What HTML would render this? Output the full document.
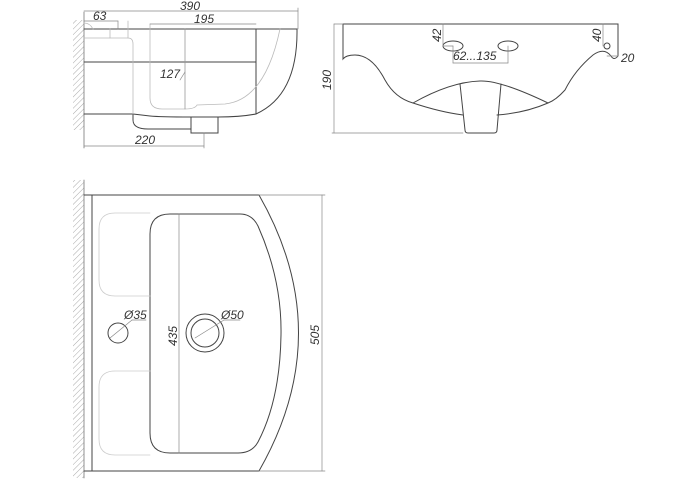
<!DOCTYPE html>
<html><head><meta charset="utf-8"><style>
html,body{margin:0;padding:0;background:#fff;width:700px;height:500px;overflow:hidden}
text{font-family:"Liberation Sans","DejaVu Sans",sans-serif;font-style:italic;font-size:12px;fill:#333}
</style></head><body>
<svg width="700" height="500" viewBox="0 0 700 500" xmlns="http://www.w3.org/2000/svg">
<defs>
<pattern id="h" width="4" height="4" patternUnits="userSpaceOnUse" patternTransform="rotate(45)">
<line x1="0" y1="0" x2="0" y2="4" stroke="#aaa" stroke-width="1"/>
</pattern>
</defs>
<g fill="none" stroke-linecap="round">
<!-- TOP VIEW -->
<rect x="73" y="20" width="11" height="110" fill="url(#h)" stroke="none"/>
<line x1="84" y1="12" x2="84" y2="148" stroke="#777" stroke-width="0.8"/>
<g stroke="#444" stroke-width="1">
<path d="M84 29 H297 Q298 95 256 114"/>
<line x1="84" y1="62" x2="256" y2="62"/>
<line x1="256" y1="29" x2="256" y2="114"/>
<path d="M84 114 H133 V120 Q133 129 148 129 H191"/>
<rect x="191" y="117" width="27" height="16"/>
<path d="M218 117 Q240 117 256 114"/>
<path d="M133 114 L150 116 Q160 117 191 117"/>
</g>
<g stroke="#bbb" stroke-width="0.8">
<path d="M150 24 V98 Q150 109 162 109 H185 Q195 109 197 105 L225 104 Q265 100 280 29"/>
<line x1="185" y1="29" x2="185" y2="109" stroke="#999"/>
<path d="M84 38 H128 Q133 38 133 44 V114"/>
<line x1="110" y1="29" x2="110" y2="38"/>
<line x1="128" y1="21" x2="128" y2="38"/>
<path d="M84 23 Q90 23 93 29"/>
</g>
<g stroke="#888" stroke-width="0.7">
<line x1="84" y1="11" x2="298" y2="11"/><line x1="298" y1="8" x2="298" y2="29"/>
<line x1="84" y1="21" x2="118" y2="21"/><line x1="118" y1="21" x2="118" y2="29"/>
<line x1="150" y1="24" x2="256" y2="24"/>
<line x1="84" y1="146" x2="204" y2="146"/><line x1="204" y1="133" x2="204" y2="148"/>
<line x1="180" y1="80" x2="185" y2="72"/>
</g>
<!-- FRONT VIEW -->
<g stroke="#444" stroke-width="1">
<path d="M343 24 H618 V56 Q614 61 611 56 Q604 47 593 55 Q575 70 565 90 Q556 100 548 103 Q500 80 480 81 Q450 82 413 103 Q395 98 385 80 Q372 55 355 55 Q346 55 343 59 V24"/>
<path d="M413 103 Q440 112 463 115"/>
<path d="M548 103 Q525 113 497 115"/>
<path d="M460 84 L465 130 Q465 133 468 133 H494 Q497 133 497 130 L501 84"/>
<ellipse cx="453" cy="46" rx="10" ry="5"/>
<ellipse cx="508" cy="46" rx="10" ry="5"/>
<circle cx="607" cy="46" r="3"/>
</g>
<g stroke="#888" stroke-width="0.7">
<line x1="334" y1="24" x2="343" y2="24"/><line x1="334" y1="24" x2="334" y2="133"/><line x1="332" y1="133" x2="463" y2="133"/>
<line x1="443" y1="24" x2="443" y2="46"/><line x1="443" y1="46" x2="453" y2="46"/>
<line x1="453" y1="46" x2="453" y2="63"/><line x1="508" y1="46" x2="508" y2="63"/><line x1="453" y1="63" x2="508" y2="63"/>
<line x1="603" y1="24" x2="603" y2="46"/><line x1="607" y1="56" x2="618" y2="56"/>
</g>
<!-- PLAN VIEW -->
<rect x="73" y="180" width="11" height="298" fill="url(#h)" stroke="none"/>
<line x1="84" y1="180" x2="84" y2="478" stroke="#777" stroke-width="0.8"/>
<g stroke="#444" stroke-width="1">
<path d="M84 195 H259 Q338 333 259 471 H84"/>
<line x1="92" y1="195" x2="92" y2="471"/>
<path d="M170 214 H240 Q252 214 258 226 Q282 280 281 335 Q280 400 258 442 Q252 453 238 453 H170 Q150 453 150 433 V234 Q150 214 170 214 Z"/>
<circle cx="118" cy="333" r="10"/>
<circle cx="205" cy="333" r="19"/>
<circle cx="205" cy="333" r="14"/>
</g>
<g stroke="#ccc" stroke-width="0.8">
<path d="M150 213 H115 Q99 213 99 229 V280 Q99 296 115 296 H150"/>
<path d="M150 371 H115 Q99 371 99 387 V439 Q99 455 115 455 H150"/>
</g>
<g stroke="#888" stroke-width="0.7">
<line x1="179" y1="214" x2="179" y2="453"/>
<line x1="259" y1="195" x2="325" y2="195"/><line x1="259" y1="471" x2="325" y2="471"/>
<line x1="322" y1="195" x2="322" y2="471"/>
<line x1="110" y1="338" x2="132" y2="320"/><line x1="132" y1="320" x2="146" y2="320"/>
<line x1="195" y1="338" x2="224" y2="320"/><line x1="224" y1="320" x2="240" y2="320"/>
</g>
</g>
<text x="180" y="10">390</text>
<text x="93" y="20">63</text>
<text x="194" y="23">195</text>
<text x="160" y="78">127</text>
<text x="135" y="144">220</text>
<text x="453" y="60">62...135</text>
<text x="621" y="62">20</text>
<text transform="translate(441,42) rotate(-90)">42</text>
<text transform="translate(601,42) rotate(-90)">40</text>
<text transform="translate(331,90) rotate(-90)">190</text>
<text x="124" y="319">Ø35</text>
<text x="221" y="319">Ø50</text>
<text transform="translate(177,346) rotate(-90)">435</text>
<text transform="translate(319,345) rotate(-90)">505</text>
</svg>
</body></html>
